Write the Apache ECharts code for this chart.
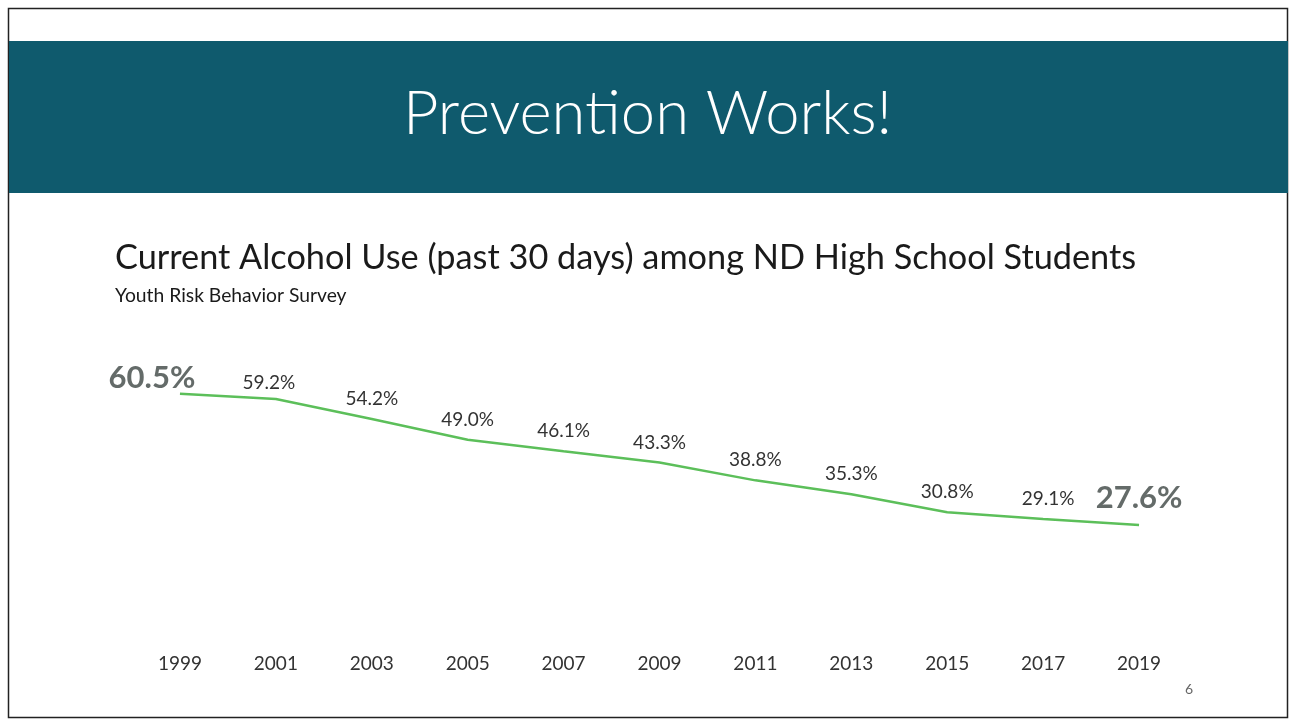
<!DOCTYPE html>
<html>
<head>
<meta charset="utf-8">
<title>Prevention Works!</title>
<script src="https://cdn.jsdelivr.net/npm/echarts@6/dist/echarts.min.js"></script>
<style>
  html, body { margin: 0; padding: 0; background: #ffffff; }
  #chart { width: 1290px; height: 721px; }
</style>
</head>
<body>
<div id="chart"></div>
<script>
// data
const years = ['1999', '2001', '2003', '2005', '2007', '2009', '2011', '2013', '2015', '2017', '2019'];
const alcoholUse = [60.5, 59.2, 54.2, 49.0, 46.1, 43.3, 38.8, 35.3, 30.8, 29.1, 27.6];

const FONT = 'Lato, "Open Sans", sans-serif';

const chart = echarts.init(document.getElementById('chart'));

// first and last point get the big grey label, a couple of others are nudged
const seriesData = alcoholUse.map((v, i) => {
  const last = alcoholUse.length - 1;
  if (i === 0 || i === last) {
    return {
      value: v,
      label: {
        fontSize: 31,
        fontWeight: 'bold',
        color: '#646b69',
        position: 'top',
        distance: 0,
        offset: i === 0 ? [-28, 0] : [0, -11]
      }
    };
  }
  if (i === 1) return { value: v, label: { offset: [-7, 4] } };
  if (i === last - 1) return { value: v, label: { offset: [5, 0] } };
  return v;
});

const option = {
  backgroundColor: '#ffffff',
  animation: false,
  grid: { left: 132, right: 103, top: 356, bottom: 86 },
  xAxis: {
    type: 'category',
    data: years,
    axisLine: { show: false },
    axisTick: { show: false },
    axisLabel: { color: '#333333', fontSize: 19, fontFamily: FONT, margin: 19 }
  },
  yAxis: {
    type: 'value',
    min: 0,
    max: 70,
    show: false,
    splitLine: { show: false }
  },
  series: [{
    type: 'line',
    data: seriesData,
    symbol: 'circle',
    symbolSize: 1,
    itemStyle: { color: 'rgba(0,0,0,0)' },
    lineStyle: { color: '#5cbf5a', width: 2.5 },
    label: {
      show: true,
      position: 'top',
      distance: 10,
      formatter: p => p.value.toFixed(1) + '%',
      color: '#333333',
      fontSize: 19,
      fontFamily: FONT
    }
  }],
  graphic: [
    // slide border
    { type: 'rect', shape: { x: 8.5, y: 8.5, width: 1279, height: 709 },
      style: { fill: 'none', stroke: '#222222', lineWidth: 1.5 } },
    // header band
    { type: 'rect', shape: { x: 9, y: 41, width: 1279, height: 152 },
      style: { fill: '#0f5a6d' } },
    { type: 'text', left: 403, top: 83,
      style: { text: 'Prevention Works!', fill: '#ffffff', fontSize: 61.5, fontWeight: 300, fontFamily: FONT } },
    { type: 'text', left: 115, top: 241,
      style: { text: 'Current Alcohol Use (past 30 days) among ND High School Students', fill: '#1a1a1a', fontSize: 34.3, fontFamily: FONT } },
    { type: 'text', left: 115, top: 286,
      style: { text: 'Youth Risk Behavior Survey', fill: '#1a1a1a', fontSize: 19.3, fontFamily: FONT } },
    { type: 'text', left: 1185, top: 682,
      style: { text: '6', fill: '#666666', fontSize: 14, fontFamily: FONT } }
  ]
};

chart.setOption(option);
</script>
</body>
</html>
